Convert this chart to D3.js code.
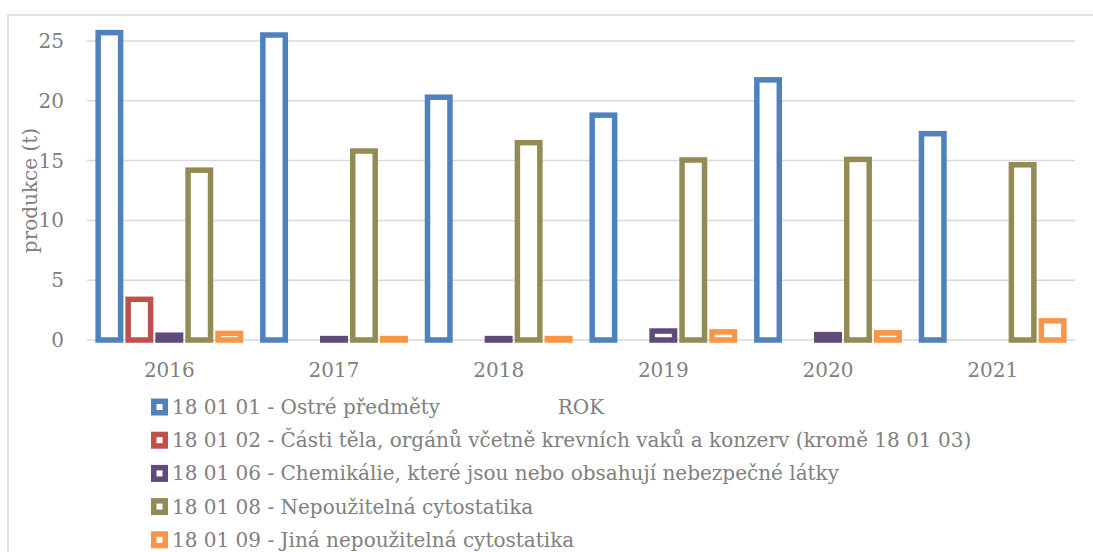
<!DOCTYPE html>
<html>
<head>
<meta charset="utf-8">
<script src="https://cdn.jsdelivr.net/npm/d3@7"></script>
<style>
  body { margin: 0; background: #fff; }
  text { font-family: "DejaVu Serif", serif; fill: #808080; }
</style>
</head>
<body>
<script>
let width = 1093;
let height = 552;

// data
let years = ["2016", "2017", "2018", "2019", "2020", "2021"];
let seriesNames = [
  "18 01 01 - Ostré předměty",
  "18 01 02 - Části těla, orgánů včetně krevních vaků a konzerv (kromě 18 01 03)",
  "18 01 06 - Chemikálie, které jsou nebo obsahují nebezpečné látky",
  "18 01 08 - Nepoužitelná cytostatika",
  "18 01 09 - Jiná nepoužitelná cytostatika"
];
let ostre = [25.7, 25.5, 20.3, 18.8, 21.75, 17.25];
let castiTela = [3.4, 0, 0, 0, 0, 0];
let chemikalie = [0.4, 0.12, 0.12, 0.75, 0.45, 0];
let cytostatika = [14.2, 15.8, 16.5, 15.05, 15.1, 14.65];
let jinaCytostatika = [0.55, 0.12, 0.12, 0.68, 0.6, 1.6];
let yTicks = [0, 5, 10, 15, 20, 25];
let colors = ["#4F81BD", "#C0504D", "#604A7B", "#948A54", "#F79646"];

let seriesValues = [ostre, castiTela, chemikalie, cytostatika, jinaCytostatika];

let svg = d3.select("body").append("svg")
    .attr("width", width)
    .attr("height", height);

// chart frame (top and left edges visible)
svg.append("rect")
    .attr("x", 8).attr("y", 15)
    .attr("width", 1100).attr("height", 560)
    .attr("fill", "none")
    .attr("stroke", "#D9D9D9")
    .attr("stroke-width", 1.5);

let plot = {left: 87, right: 1075, top: 41, bottom: 340};

let y = d3.scaleLinear().domain([0, 25]).range([plot.bottom, plot.top]);
let x0 = d3.scaleBand().domain(years).range([plot.left, plot.right]).paddingInner(0.09).paddingOuter(0.045);
let x1 = d3.scaleBand().domain(d3.range(seriesNames.length)).range([0, x0.bandwidth()]);

// gridlines
svg.append("g").selectAll("line")
    .data(yTicks)
    .enter().append("line")
    .attr("x1", plot.left).attr("x2", plot.right)
    .attr("y1", d => y(d)).attr("y2", d => y(d))
    .attr("stroke", "#D9D9D9")
    .attr("stroke-width", 1.5);

// y tick labels
svg.append("g").selectAll("text")
    .data(yTicks)
    .enter().append("text")
    .attr("x", 64)
    .attr("y", d => y(d))
    .attr("dy", "0.35em")
    .attr("text-anchor", "end")
    .style("font-size", "20px")
    .text(d => d);

// x labels
svg.append("g").selectAll("text")
    .data(years)
    .enter().append("text")
    .attr("x", d => x0(d) + x0.bandwidth() / 2)
    .attr("y", 370)
    .attr("dy", "0.35em")
    .attr("text-anchor", "middle")
    .style("font-size", "20px")
    .text(d => d);

// bars: outlined, white inside
let sw = 5.5;
let groups = svg.append("g").selectAll("g")
    .data(years)
    .enter().append("g")
    .attr("transform", d => "translate(" + x0(d) + ",0)");

groups.selectAll("rect")
    .data((d, i) => seriesValues.map((vals, s) => ({s: s, v: vals[i]})).filter(e => e.v > 0))
    .enter().append("rect")
    .attr("x", d => x1(d.s) + sw / 2 + 1)
    .attr("width", x1.bandwidth() - sw - 2)
    .attr("y", d => y(d.v))
    .attr("height", d => y(0) - y(d.v))
    .attr("fill", "#fff")
    .attr("stroke", d => colors[d.s])
    .attr("stroke-width", sw);

// axis titles
svg.append("text")
    .attr("transform", "translate(30," + ((plot.top + plot.bottom) / 2) + ") rotate(-90)")
    .attr("dy", "0.35em")
    .attr("text-anchor", "middle")
    .style("font-size", "20px")
    .text("produkce (t)");

svg.append("text")
    .attr("x", (plot.left + plot.right) / 2)
    .attr("y", 407)
    .attr("dy", "0.35em")
    .attr("text-anchor", "middle")
    .style("font-size", "20px")
    .text("ROK");

// legend
let legend = svg.append("g").selectAll("g")
    .data(seriesNames)
    .enter().append("g")
    .attr("transform", (d, i) => "translate(151," + (407 + i * 33.2) + ")");

legend.append("rect")
    .attr("x", sw / 2).attr("y", -8.5 + sw / 2)
    .attr("width", 17 - sw).attr("height", 17 - sw)
    .attr("fill", "#fff")
    .attr("stroke", (d, i) => colors[i])
    .attr("stroke-width", sw);

legend.append("text")
    .attr("x", 21)
    .attr("dy", "0.35em")
    .style("font-size", "20px")
    .text(d => d);
</script>
</body>
</html>
